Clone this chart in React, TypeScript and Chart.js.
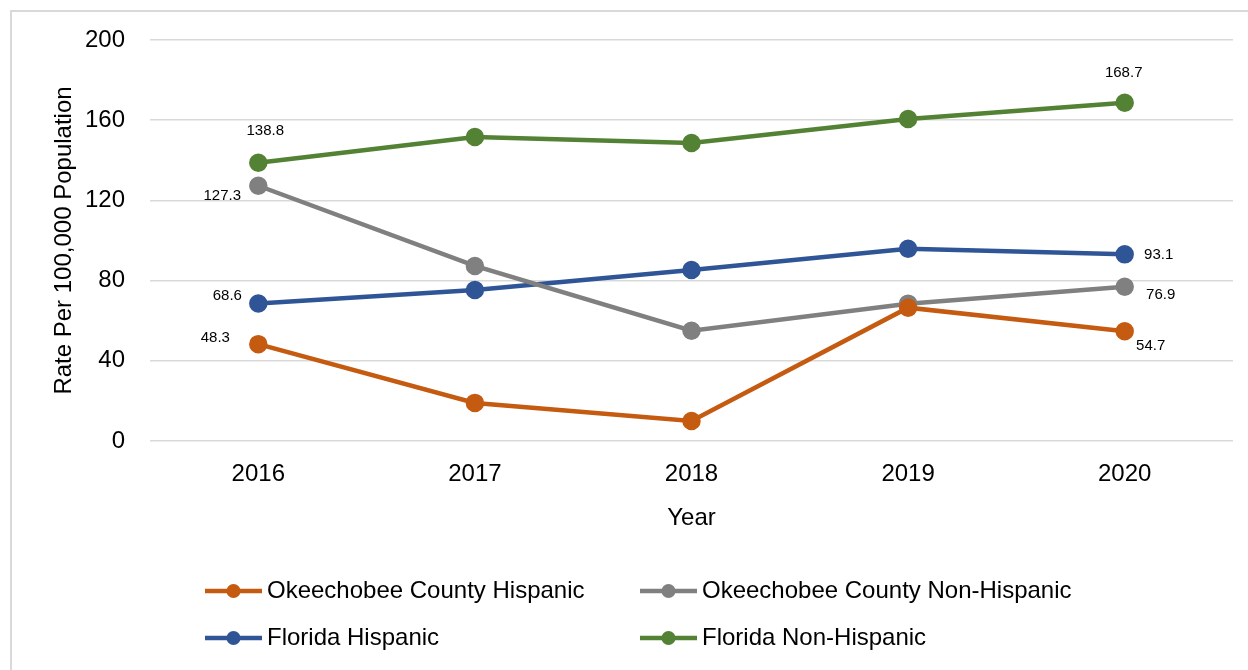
import React, { useEffect, useRef } from "react";
import { Chart, registerables } from "chart.js";

Chart.register(...registerables);

const years = ["2016", "2017", "2018", "2019", "2020"];
const okeechobeeHispanic = [48.3, 19.0, 10.0, 66.5, 54.7];
const okeechobeeNonHispanic = [127.3, 87.3, 55.0, 68.5, 76.9];
const floridaHispanic = [68.6, 75.3, 85.3, 95.9, 93.1];
const floridaNonHispanic = [138.8, 151.6, 148.6, 160.6, 168.7];
const yTicks = [0, 40, 80, 120, 160, 200];

const FONT = '"Liberation Sans", Arial, sans-serif';

const seriesDefs = [
  { label: "Okeechobee County Hispanic", data: okeechobeeHispanic, color: "#C55A11" },
  { label: "Okeechobee County Non-Hispanic", data: okeechobeeNonHispanic, color: "#808080" },
  { label: "Florida Hispanic", data: floridaHispanic, color: "#2F5597" },
  { label: "Florida Non-Hispanic", data: floridaNonHispanic, color: "#548235" },
];

// label offsets (dx, dy) for first and last point per series
const labelOffsets = [
  { first: [-43, -6], last: [26, 15] },
  { first: [-36, 10], last: [36, 8] },
  { first: [-31, -8], last: [34, 1] },
  { first: [7, -32], last: [-1, -30] },
];

const legendSlots = [
  { x: 205, y: 591 },
  { x: 640, y: 591 },
  { x: 205, y: 638 },
  { x: 640, y: 638 },
];

const framePlugin = {
  id: "frame",
  beforeDraw(chart: any) {
    const ctx = chart.ctx;
    ctx.save();
    ctx.fillStyle = "#ffffff";
    ctx.fillRect(0, 0, chart.width, chart.height);
    ctx.strokeStyle = "#d9d9d9";
    ctx.lineWidth = 2;
    ctx.strokeRect(11, 11, chart.width + 10, chart.height + 10);
    ctx.restore();
  },
  afterDraw(chart: any) {
    const ctx = chart.ctx;
    ctx.save();
    // data labels
    ctx.font = `15px ${FONT}`;
    ctx.fillStyle = "#000";
    ctx.textAlign = "center";
    ctx.textBaseline = "middle";
    chart.data.datasets.forEach((ds: any, i: number) => {
      const meta = chart.getDatasetMeta(i);
      const n = meta.data.length;
      const f = meta.data[0];
      const l = meta.data[n - 1];
      const o = labelOffsets[i];
      ctx.fillText(String(ds.data[0].toFixed(1)), f.x + o.first[0], f.y + o.first[1]);
      ctx.fillText(String(ds.data[n - 1].toFixed(1)), l.x + o.last[0], l.y + o.last[1]);
    });
    // legend
    ctx.font = `24px ${FONT}`;
    ctx.textAlign = "left";
    chart.data.datasets.forEach((ds: any, i: number) => {
      const s = legendSlots[i];
      ctx.strokeStyle = ds.borderColor;
      ctx.lineWidth = 4.5;
      ctx.lineCap = "butt";
      ctx.beginPath();
      ctx.moveTo(s.x, s.y);
      ctx.lineTo(s.x + 57, s.y);
      ctx.stroke();
      ctx.fillStyle = ds.borderColor;
      ctx.beginPath();
      ctx.arc(s.x + 28.5, s.y, 7, 0, Math.PI * 2);
      ctx.fill();
      ctx.fillStyle = "#000";
      ctx.fillText(ds.label, s.x + 62, s.y);
    });
    ctx.restore();
  },
};

export default function App() {
  const ref = useRef<HTMLCanvasElement | null>(null);
  useEffect(() => {
    if (!ref.current) return;
    const chart = new Chart(ref.current, {
      type: "line",
      data: {
        labels: years,
        datasets: seriesDefs.map((s) => ({
          label: s.label,
          data: s.data,
          borderColor: s.color,
          backgroundColor: s.color,
          pointBackgroundColor: s.color,
          pointBorderColor: s.color,
          borderWidth: 4.5,
          pointRadius: 7,
          tension: 0,
        })),
      },
      options: {
        animation: false,
        responsive: false,
        layout: { padding: { left: 10, top: 40, right: 15, bottom: 129 } },
        plugins: { legend: { display: false }, tooltip: { enabled: false } },
        scales: {
          x: {
            offset: true,
            grid: { display: false },
            border: { display: false },
            ticks: { color: "#000", font: { family: FONT, size: 24 }, padding: 11 },
            title: {
              display: true,
              text: "Year",
              color: "#000",
              font: { family: FONT, size: 24 },
              padding: { top: 0, bottom: 8 },
            },
            afterFit: (s: any) => {
              s.height = 100;
            },
          },
          y: {
            min: 0,
            max: 200,
            afterBuildTicks: (s: any) => {
              s.ticks = yTicks.map((v) => ({ value: v }));
            },
            grid: { color: "#d9d9d9", lineWidth: 1.5, drawTicks: false },
            border: { display: false },
            ticks: { color: "#000", font: { family: FONT, size: 24 }, padding: 25 },
            title: {
              display: true,
              text: "Rate Per 100,000 Population",
              color: "#000",
              font: { family: FONT, size: 24 },
              padding: { top: 40, bottom: 0 },
            },
            afterFit: (s: any) => {
              s.width = 140;
            },
          },
        },
      },
      plugins: [framePlugin],
    });
    return () => chart.destroy();
  }, []);
  return (
    <div style={{ position: "absolute", left: 0, top: 0, width: 1248, height: 670 }}>
      <canvas ref={ref} width={1248} height={670} style={{ display: "block" }} />
    </div>
  );
}
